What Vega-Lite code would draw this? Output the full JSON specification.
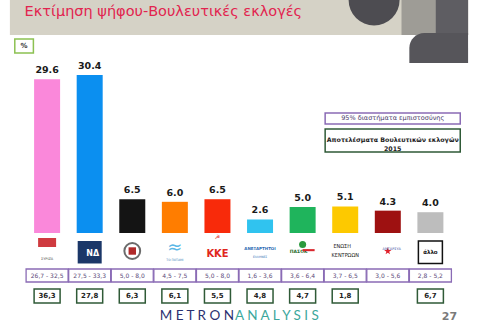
{
  "$schema": "https://vega.github.io/schema/vega-lite/v6.json",
  "width": 477,
  "height": 329,
  "autosize": {"type": "none"},
  "padding": 0,
  "background": "white",
  "config": {"view": {"stroke": null}, "axis": {"disable": true}},
  "datasets": {
    "parties": [
      {"idx": 0, "party": "ΣΥΡΙΖΑ", "value": 29.6, "ci": "26,7 - 32,5", "result": "36,3"},
      {"idx": 1, "party": "ΝΔ", "value": 30.4, "ci": "27,5 - 33,3", "result": "27,8"},
      {"idx": 2, "party": "Χρυσή Αυγή", "value": 6.5, "ci": "5,0 - 8,0", "result": "6,3"},
      {"idx": 3, "party": "Το Ποτάμι", "value": 6.0, "ci": "4,5 - 7,5", "result": "6,1"},
      {"idx": 4, "party": "ΚΚΕ", "value": 6.5, "ci": "5,0 - 8,0", "result": "5,5"},
      {"idx": 5, "party": "ΑΝΕΛ", "value": 2.6, "ci": "1,6 - 3,6", "result": "4,8"},
      {"idx": 6, "party": "ΠΑΣΟΚ", "value": 5.0, "ci": "3,6 - 6,4", "result": "4,7"},
      {"idx": 7, "party": "Ένωση Κεντρώων", "value": 5.1, "ci": "3,7 - 6,5", "result": "1,8"},
      {"idx": 8, "party": "ΑΝΤΑΡΣΥΑ", "value": 4.3, "ci": "3,0 - 5,6", "result": null},
      {"idx": 9, "party": "Άλλο", "value": 4.0, "ci": "2,8 - 5,2", "result": "6,7"}
    ]
  },
  "data": {"name": "parties"},
  "layer": [
    {
      "data": {"values": [{}]},
      "mark": {"type": "rect", "color": "#d5d2c6"},
      "encoding": {
        "x": {"datum": -0.8736, "type": "quantitative", "scale": {"domain": [-0.9885, 9.977], "nice": false, "zero": false}},
        "x2": {"datum": 9.8851},
        "y": {"datum": 44.833, "type": "quantitative", "scale": {"domain": [-18.472, 44.833], "nice": false, "zero": false}},
        "y2": {"datum": 38.099}
      }
    },
    {
      "data": {"values": [{}]},
      "mark": {"type": "rect", "color": "#9e9c96"},
      "encoding": {"x": {"datum": 8.3218, "type": "quantitative", "scale": {"domain": [-0.9885, 9.977], "nice": false, "zero": false}}, "x2": {"datum": 9.8851}, "y": {"datum": 44.833, "type": "quantitative", "scale": {"domain": [-18.472, 44.833], "nice": false, "zero": false}}, "y2": {"datum": 38.099}}
    },
    {
      "data": {"values": [{}]},
      "mark": {"type": "rect", "color": "#5e5d62"},
      "encoding": {"x": {"datum": 9.1264, "type": "quantitative", "scale": {"domain": [-0.9885, 9.977], "nice": false, "zero": false}}, "x2": {"datum": 9.8851}, "y": {"datum": 44.833, "type": "quantitative", "scale": {"domain": [-18.472, 44.833], "nice": false, "zero": false}}, "y2": {"datum": 38.099}}
    },
    {
      "data": {"values": [{}]},
      "mark": {"type": "rect", "color": "#56555a", "cornerRadiusTopLeft": 16},
      "encoding": {"x": {"datum": 8.5057, "type": "quantitative", "scale": {"domain": [-0.9885, 9.977], "nice": false, "zero": false}}, "x2": {"datum": 9.8851}, "y": {"datum": 38.484, "type": "quantitative", "scale": {"domain": [-18.472, 44.833], "nice": false, "zero": false}}, "y2": {"datum": 32.711}}
    },
    {
      "data": {"values": [{}]},
      "mark": {"type": "point", "shape": "circle", "filled": true, "opacity": 1, "color": "#4d4c51", "size": 2600},
      "encoding": {"x": {"datum": 7.6782, "type": "quantitative", "scale": {"domain": [-0.9885, 9.977], "nice": false, "zero": false}}, "y": {"datum": 44.833, "type": "quantitative", "scale": {"domain": [-18.472, 44.833], "nice": false, "zero": false}}}
    },
    {
      "data": {"values": [{}]},
      "mark": {"type": "text", "text": "Εκτίμηση ψήφου-Βουλευτικές εκλογές", "font": "DejaVu Sans", "fontSize": 14.5, "color": "#e2244f", "align": "left", "baseline": "alphabetic"},
      "encoding": {"x": {"datum": -0.5287, "type": "quantitative", "scale": {"domain": [-0.9885, 9.977], "nice": false, "zero": false}}, "y": {"datum": 41.755, "type": "quantitative", "scale": {"domain": [-18.472, 44.833], "nice": false, "zero": false}}}
    },
    {
      "data": {"values": [{}]},
      "mark": {"type": "rect", "fill": "white", "stroke": "#8cc152", "strokeWidth": 1.5},
      "encoding": {"x": {"datum": -0.7586, "type": "quantitative", "scale": {"domain": [-0.9885, 9.977], "nice": false, "zero": false}}, "x2": {"datum": -0.3218}, "y": {"datum": 37.329, "type": "quantitative", "scale": {"domain": [-18.472, 44.833], "nice": false, "zero": false}}, "y2": {"datum": 34.635}}
    },
    {
      "data": {"values": [{}]},
      "mark": {"type": "text", "text": "%", "font": "DejaVu Sans", "fontWeight": "bold", "fontSize": 7, "color": "#333333", "align": "center", "baseline": "middle"},
      "encoding": {"x": {"datum": -0.5402, "type": "quantitative", "scale": {"domain": [-0.9885, 9.977], "nice": false, "zero": false}}, "y": {"datum": 35.982, "type": "quantitative", "scale": {"domain": [-18.472, 44.833], "nice": false, "zero": false}}}
    },
    {
      "data": {"values": [{}]},
      "mark": {"type": "rect", "fill": "white", "stroke": "#8a6bb5", "strokeWidth": 1.5},
      "encoding": {"x": {"datum": 6.5287, "type": "quantitative", "scale": {"domain": [-0.9885, 9.977], "nice": false, "zero": false}}, "x2": {"datum": 9.7011}, "y": {"datum": 23.09, "type": "quantitative", "scale": {"domain": [-18.472, 44.833], "nice": false, "zero": false}}, "y2": {"datum": 20.974}}
    },
    {
      "data": {"values": [{}]},
      "mark": {"type": "text", "text": "95% διαστήματα εμπιστοσύνης", "font": "DejaVu Sans", "fontSize": 6.5, "color": "#4a3a6a", "align": "center", "baseline": "middle"},
      "encoding": {"x": {"datum": 8.1149, "type": "quantitative", "scale": {"domain": [-0.9885, 9.977], "nice": false, "zero": false}}, "y": {"datum": 22.032, "type": "quantitative", "scale": {"domain": [-18.472, 44.833], "nice": false, "zero": false}}}
    },
    {
      "data": {"values": [{}]},
      "mark": {"type": "rect", "fill": "white", "stroke": "#2f5a37", "strokeWidth": 1.5},
      "encoding": {"x": {"datum": 6.5287, "type": "quantitative", "scale": {"domain": [-0.9885, 9.977], "nice": false, "zero": false}}, "x2": {"datum": 9.7011}, "y": {"datum": 20.012, "type": "quantitative", "scale": {"domain": [-18.472, 44.833], "nice": false, "zero": false}}, "y2": {"datum": 15.586}}
    },
    {
      "data": {"values": [{}]},
      "mark": {"type": "text", "text": "Αποτελέσματα Βουλευτικών εκλογών\n2015", "lineBreak": "\n", "lineHeight": 9, "font": "DejaVu Sans", "fontWeight": "bold", "fontSize": 6.3, "color": "#222222", "align": "center", "baseline": "middle"},
      "encoding": {"x": {"datum": 8.1149, "type": "quantitative", "scale": {"domain": [-0.9885, 9.977], "nice": false, "zero": false}}, "y": {"datum": 17.799, "type": "quantitative", "scale": {"domain": [-18.472, 44.833], "nice": false, "zero": false}}}
    },
    {
      "mark": {"type": "bar", "width": 26},
      "encoding": {
        "x": {"field": "idx", "type": "quantitative", "scale": {"domain": [-0.9885, 9.977], "nice": false, "zero": false}},
        "y": {"field": "value", "type": "quantitative", "scale": {"domain": [-18.472, 44.833], "nice": false, "zero": false}},
        "y2": {"datum": 0},
        "color": {
          "field": "party",
          "type": "nominal",
          "scale": {
            "domain": ["ΣΥΡΙΖΑ", "ΝΔ", "Χρυσή Αυγή", "Το Ποτάμι", "ΚΚΕ", "ΑΝΕΛ", "ΠΑΣΟΚ", "Ένωση Κεντρώων", "ΑΝΤΑΡΣΥΑ", "Άλλο"],
            "range": ["#fa88da", "#0b8ff0", "#141414", "#ff7d00", "#f82a0a", "#30c3ef", "#1fb45c", "#fdc900", "#9e1111", "#bdbdbd"]
          },
          "legend": null
        }
      }
    },
    {
      "mark": {"type": "text", "font": "DejaVu Sans", "fontWeight": "bold", "fontSize": 9.5, "dy": -6, "baseline": "alphabetic", "align": "center", "color": "#1a1a1a"},
      "encoding": {
        "x": {"field": "idx", "type": "quantitative", "scale": {"domain": [-0.9885, 9.977], "nice": false, "zero": false}},
        "y": {"field": "value", "type": "quantitative", "scale": {"domain": [-18.472, 44.833], "nice": false, "zero": false}},
        "text": {"field": "value", "type": "quantitative", "format": ".1f"}
      }
    },
    {
      "transform": [{"filter": "datum.idx == 0"}],
      "mark": {"type": "bar", "width": 18, "color": "#cf3a3f"},
      "encoding": {"x": {"field": "idx", "type": "quantitative", "scale": {"domain": [-0.9885, 9.977], "nice": false, "zero": false}}, "y": {"datum": -0.963, "type": "quantitative", "scale": {"domain": [-18.472, 44.833], "nice": false, "zero": false}}, "y2": {"datum": -2.694}}
    },
    {
      "transform": [{"filter": "datum.idx == 0"}],
      "mark": {"type": "text", "text": "ΣΥΡΙΖΑ", "font": "DejaVu Sans", "fontSize": 3.5, "color": "#444444", "align": "center", "baseline": "middle"},
      "encoding": {"x": {"field": "idx", "type": "quantitative", "scale": {"domain": [-0.9885, 9.977], "nice": false, "zero": false}}, "y": {"datum": -5.003, "type": "quantitative", "scale": {"domain": [-18.472, 44.833], "nice": false, "zero": false}}}
    },
    {
      "transform": [{"filter": "datum.idx == 1 || datum.idx == 9"}],
      "mark": {"type": "bar", "width": 24, "stroke": "#111111", "strokeWidth": 1.5},
      "encoding": {
        "x": {"field": "idx", "type": "quantitative", "scale": {"domain": [-0.9885, 9.977], "nice": false, "zero": false}},
        "y": {"datum": -1.539, "type": "quantitative", "scale": {"domain": [-18.472, 44.833], "nice": false, "zero": false}},
        "y2": {"datum": -5.865},
        "fill": {"condition": {"test": "datum.idx == 1", "value": "#1b3768"}, "value": "white"},
        "strokeOpacity": {"condition": {"test": "datum.idx == 1", "value": 0}, "value": 1}
      }
    },
    {
      "transform": [{"filter": "datum.idx == 1"}],
      "mark": {"type": "text", "text": "ΝΔ", "font": "DejaVu Sans", "fontWeight": "bold", "fontSize": 8, "dx": 3, "color": "white", "align": "center", "baseline": "middle"},
      "encoding": {"x": {"field": "idx", "type": "quantitative", "scale": {"domain": [-0.9885, 9.977], "nice": false, "zero": false}}, "y": {"datum": -4.04, "type": "quantitative", "scale": {"domain": [-18.472, 44.833], "nice": false, "zero": false}}}
    },
    {
      "transform": [{"filter": "datum.idx == 9"}],
      "mark": {"type": "text", "text": "άλλο", "font": "DejaVu Sans", "fontWeight": "bold", "fontSize": 5.5, "color": "#111111", "align": "center", "baseline": "middle"},
      "encoding": {"x": {"field": "idx", "type": "quantitative", "scale": {"domain": [-0.9885, 9.977], "nice": false, "zero": false}}, "y": {"datum": -3.752, "type": "quantitative", "scale": {"domain": [-18.472, 44.833], "nice": false, "zero": false}}}
    },
    {
      "transform": [{"filter": "datum.idx == 2"}],
      "mark": {"type": "point", "shape": "circle", "filled": false, "color": "#6b6b6b", "strokeWidth": 2, "size": 250, "opacity": 1},
      "encoding": {"x": {"field": "idx", "type": "quantitative", "scale": {"domain": [-0.9885, 9.977], "nice": false, "zero": false}}, "y": {"datum": -3.464, "type": "quantitative", "scale": {"domain": [-18.472, 44.833], "nice": false, "zero": false}}}
    },
    {
      "transform": [{"filter": "datum.idx == 2"}],
      "mark": {"type": "point", "shape": "square", "filled": true, "color": "#b02a2a", "size": 55, "opacity": 1},
      "encoding": {"x": {"field": "idx", "type": "quantitative", "scale": {"domain": [-0.9885, 9.977], "nice": false, "zero": false}}, "y": {"datum": -3.464, "type": "quantitative", "scale": {"domain": [-18.472, 44.833], "nice": false, "zero": false}}}
    },
    {
      "transform": [{"filter": "datum.idx == 3"}],
      "mark": {"type": "text", "text": "≈", "font": "DejaVu Sans", "fontSize": 18, "color": "#5ab7e6", "align": "center", "baseline": "middle"},
      "encoding": {"x": {"field": "idx", "type": "quantitative", "scale": {"domain": [-0.9885, 9.977], "nice": false, "zero": false}}, "y": {"datum": -2.9, "type": "quantitative", "scale": {"domain": [-18.472, 44.833], "nice": false, "zero": false}}}
    },
    {
      "transform": [{"filter": "datum.idx == 3"}],
      "mark": {"type": "text", "text": "ΤΟ ΠΟΤΑΜΙ", "font": "DejaVu Sans", "fontSize": 3, "color": "#3a7fb8", "align": "center", "baseline": "middle"},
      "encoding": {"x": {"field": "idx", "type": "quantitative", "scale": {"domain": [-0.9885, 9.977], "nice": false, "zero": false}}, "y": {"datum": -5.2, "type": "quantitative", "scale": {"domain": [-18.472, 44.833], "nice": false, "zero": false}}}
    },
    {
      "transform": [{"filter": "datum.idx == 4"}],
      "mark": {"type": "text", "text": "ΚΚΕ", "font": "DejaVu Sans Condensed", "fontWeight": "bold", "fontSize": 11, "color": "#e1261c", "align": "center", "baseline": "alphabetic"},
      "encoding": {"x": {"field": "idx", "type": "quantitative", "scale": {"domain": [-0.9885, 9.977], "nice": false, "zero": false}}, "y": {"datum": -4.618, "type": "quantitative", "scale": {"domain": [-18.472, 44.833], "nice": false, "zero": false}}}
    },
    {
      "transform": [{"filter": "datum.idx == 4"}],
      "mark": {"type": "text", "text": "☭", "font": "DejaVu Sans", "fontSize": 6, "color": "#e1261c", "align": "center", "baseline": "middle"},
      "encoding": {"x": {"field": "idx", "type": "quantitative", "scale": {"domain": [-0.9885, 9.977], "nice": false, "zero": false}}, "y": {"datum": -0.8, "type": "quantitative", "scale": {"domain": [-18.472, 44.833], "nice": false, "zero": false}}}
    },
    {
      "transform": [{"filter": "datum.idx == 5"}],
      "mark": {"type": "text", "text": "ΑΝΕΞΑΡΤΗΤΟΙ", "font": "DejaVu Sans", "fontWeight": "bold", "fontSize": 4, "color": "#2c6bb3", "align": "center", "baseline": "middle"},
      "encoding": {"x": {"field": "idx", "type": "quantitative", "scale": {"domain": [-0.9885, 9.977], "nice": false, "zero": false}}, "y": {"datum": -3.0, "type": "quantitative", "scale": {"domain": [-18.472, 44.833], "nice": false, "zero": false}}}
    },
    {
      "transform": [{"filter": "datum.idx == 5"}],
      "mark": {"type": "text", "text": "ΕΛΛΗΝΕΣ", "font": "DejaVu Sans", "fontSize": 3, "color": "#2c6bb3", "align": "center", "baseline": "middle"},
      "encoding": {"x": {"field": "idx", "type": "quantitative", "scale": {"domain": [-0.9885, 9.977], "nice": false, "zero": false}}, "y": {"datum": -4.6, "type": "quantitative", "scale": {"domain": [-18.472, 44.833], "nice": false, "zero": false}}}
    },
    {
      "transform": [{"filter": "datum.idx == 6"}],
      "mark": {"type": "point", "shape": "circle", "filled": true, "color": "#2b9a3e", "size": 50, "opacity": 1, "dx": -5},
      "encoding": {"x": {"field": "idx", "type": "quantitative", "scale": {"domain": [-0.9885, 9.977], "nice": false, "zero": false}}, "y": {"datum": -2.2, "type": "quantitative", "scale": {"domain": [-18.472, 44.833], "nice": false, "zero": false}}}
    },
    {
      "transform": [{"filter": "datum.idx == 6"}],
      "mark": {"type": "text", "text": "ΠΑΣΟΚ", "font": "DejaVu Sans", "fontWeight": "bold", "fontSize": 4.5, "color": "#1d6b2a", "align": "center", "baseline": "middle", "dx": -4},
      "encoding": {"x": {"field": "idx", "type": "quantitative", "scale": {"domain": [-0.9885, 9.977], "nice": false, "zero": false}}, "y": {"datum": -3.6, "type": "quantitative", "scale": {"domain": [-18.472, 44.833], "nice": false, "zero": false}}}
    },
    {
      "transform": [{"filter": "datum.idx == 6"}],
      "mark": {"type": "bar", "width": 12, "color": "#d9272e", "xOffset": 6},
      "encoding": {"x": {"field": "idx", "type": "quantitative", "scale": {"domain": [-0.9885, 9.977], "nice": false, "zero": false}}, "y": {"datum": -3.1, "type": "quantitative", "scale": {"domain": [-18.472, 44.833], "nice": false, "zero": false}}, "y2": {"datum": -3.5}}
    },
    {
      "transform": [{"filter": "datum.idx == 7"}],
      "mark": {"type": "text", "text": "ΕΝΩΣΗ", "font": "DejaVu Sans Condensed", "fontSize": 5.5, "color": "#222222", "align": "center", "baseline": "middle", "dx": -3},
      "encoding": {"x": {"field": "idx", "type": "quantitative", "scale": {"domain": [-0.9885, 9.977], "nice": false, "zero": false}}, "y": {"datum": -2.5, "type": "quantitative", "scale": {"domain": [-18.472, 44.833], "nice": false, "zero": false}}}
    },
    {
      "transform": [{"filter": "datum.idx == 7"}],
      "mark": {"type": "text", "text": "ΚΕΝΤΡΩΩΝ", "font": "DejaVu Sans Condensed", "fontSize": 5.5, "color": "#222222", "align": "center", "baseline": "middle"},
      "encoding": {"x": {"field": "idx", "type": "quantitative", "scale": {"domain": [-0.9885, 9.977], "nice": false, "zero": false}}, "y": {"datum": -4.3, "type": "quantitative", "scale": {"domain": [-18.472, 44.833], "nice": false, "zero": false}}}
    },
    {
      "transform": [{"filter": "datum.idx == 8"}],
      "mark": {"type": "point", "shape": "M0,-1L0.225,-0.31L0.95,-0.31L0.36,0.12L0.59,0.81L0,0.38L-0.59,0.81L-0.36,0.12L-0.95,-0.31L-0.225,-0.31Z", "filled": true, "color": "#e0202a", "size": 60, "opacity": 1, "dx": -7},
      "encoding": {"x": {"field": "idx", "type": "quantitative", "scale": {"domain": [-0.9885, 9.977], "nice": false, "zero": false}}, "y": {"datum": -3.5, "type": "quantitative", "scale": {"domain": [-18.472, 44.833], "nice": false, "zero": false}}}
    },
    {
      "transform": [{"filter": "datum.idx == 8"}],
      "mark": {"type": "text", "text": "ΑΝΤΑΡΣΥΑ", "font": "DejaVu Sans", "fontSize": 3.5, "color": "#3a4aa0", "align": "center", "baseline": "middle", "dx": 4},
      "encoding": {"x": {"field": "idx", "type": "quantitative", "scale": {"domain": [-0.9885, 9.977], "nice": false, "zero": false}}, "y": {"datum": -3.1, "type": "quantitative", "scale": {"domain": [-18.472, 44.833], "nice": false, "zero": false}}}
    },
    {
      "mark": {"type": "bar", "width": 42, "fill": "white", "stroke": "#8a6bb5", "strokeWidth": 1.3},
      "encoding": {"x": {"field": "idx", "type": "quantitative", "scale": {"domain": [-0.9885, 9.977], "nice": false, "zero": false}}, "y": {"datum": -6.927, "type": "quantitative", "scale": {"domain": [-18.472, 44.833], "nice": false, "zero": false}}, "y2": {"datum": -9.429}}
    },
    {
      "mark": {"type": "text", "font": "DejaVu Sans", "fontSize": 6, "color": "#5b4a7a", "align": "center", "baseline": "middle"},
      "encoding": {"x": {"field": "idx", "type": "quantitative", "scale": {"domain": [-0.9885, 9.977], "nice": false, "zero": false}}, "y": {"datum": -8.178, "type": "quantitative", "scale": {"domain": [-18.472, 44.833], "nice": false, "zero": false}}, "text": {"field": "ci"}}
    },
    {
      "transform": [{"filter": "datum.result != null"}],
      "mark": {"type": "bar", "width": 26, "fill": "white", "stroke": "#2f5a37", "strokeWidth": 1.5},
      "encoding": {"x": {"field": "idx", "type": "quantitative", "scale": {"domain": [-0.9885, 9.977], "nice": false, "zero": false}}, "y": {"datum": -10.775, "type": "quantitative", "scale": {"domain": [-18.472, 44.833], "nice": false, "zero": false}}, "y2": {"datum": -13.469}}
    },
    {
      "transform": [{"filter": "datum.result != null"}],
      "mark": {"type": "text", "font": "DejaVu Sans", "fontWeight": "bold", "fontSize": 7, "color": "#222222", "align": "center", "baseline": "middle"},
      "encoding": {"x": {"field": "idx", "type": "quantitative", "scale": {"domain": [-0.9885, 9.977], "nice": false, "zero": false}}, "y": {"datum": -12.122, "type": "quantitative", "scale": {"domain": [-18.472, 44.833], "nice": false, "zero": false}}, "text": {"field": "result"}}
    },
    {
      "data": {"values": [{}]},
      "mark": {"type": "text", "text": "M E T R O N", "font": "Lato", "fontSize": 13.5, "color": "#2b3170", "align": "left", "baseline": "alphabetic"},
      "encoding": {"x": {"datum": 2.6437, "type": "quantitative", "scale": {"domain": [-0.9885, 9.977], "nice": false, "zero": false}}, "y": {"datum": -16.74, "type": "quantitative", "scale": {"domain": [-18.472, 44.833], "nice": false, "zero": false}}}
    },
    {
      "data": {"values": [{}]},
      "mark": {"type": "text", "text": "A N A L Y S I S", "font": "Lato", "fontSize": 13.5, "color": "#3ca79c", "align": "left", "baseline": "alphabetic"},
      "encoding": {"x": {"datum": 4.4138, "type": "quantitative", "scale": {"domain": [-0.9885, 9.977], "nice": false, "zero": false}}, "y": {"datum": -16.74, "type": "quantitative", "scale": {"domain": [-18.472, 44.833], "nice": false, "zero": false}}}
    },
    {
      "data": {"values": [{}]},
      "mark": {"type": "text", "text": "27", "font": "DejaVu Sans", "fontWeight": "bold", "fontSize": 11, "color": "#7a7a7a", "align": "center", "baseline": "alphabetic"},
      "encoding": {"x": {"datum": 9.4483, "type": "quantitative", "scale": {"domain": [-0.9885, 9.977], "nice": false, "zero": false}}, "y": {"datum": -16.74, "type": "quantitative", "scale": {"domain": [-18.472, 44.833], "nice": false, "zero": false}}}
    }
  ]
}
